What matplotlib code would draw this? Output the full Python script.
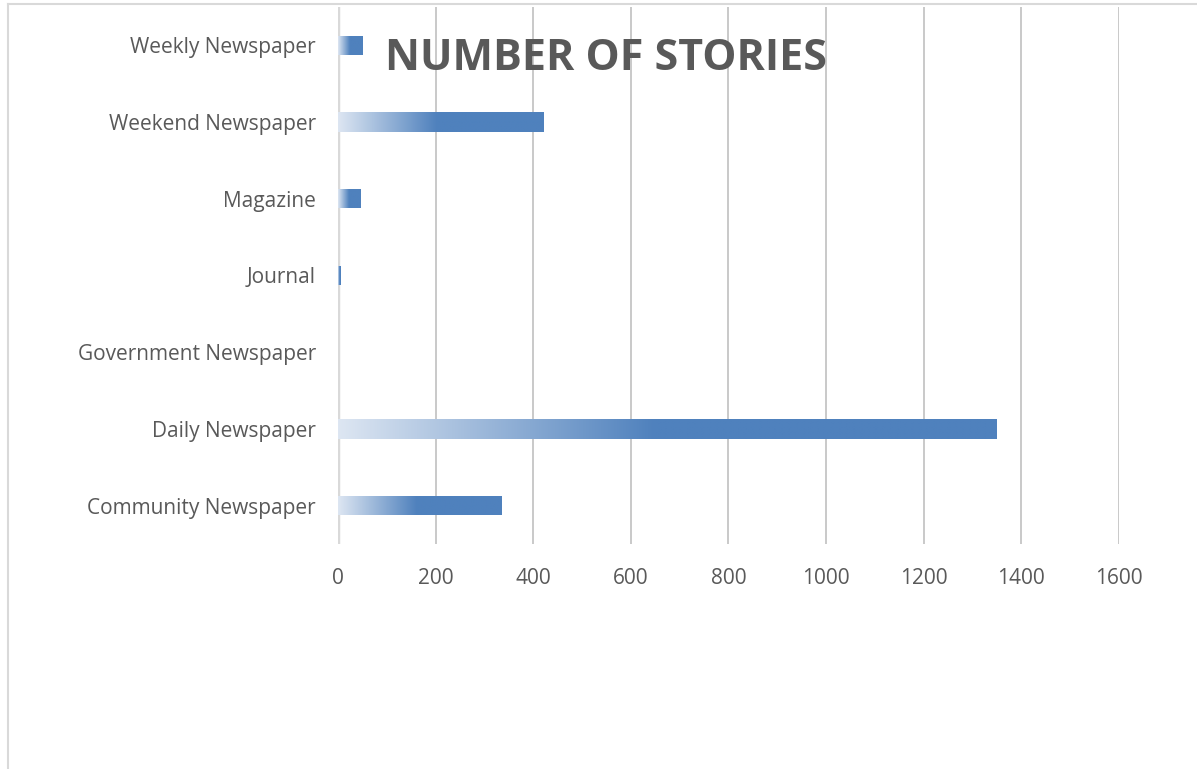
import matplotlib
matplotlib.use("Agg")
import matplotlib.pyplot as plt
import numpy as np
from matplotlib.colors import LinearSegmentedColormap
from matplotlib.lines import Line2D

# Outlet types, bottom to top as drawn
categories = [
    "Community Newspaper",
    "Daily Newspaper",
    "Government Newspaper",
    "Journal",
    "Magazine",
    "Weekend Newspaper",
    "Weekly Newspaper",
]
stories = [336, 1350, 0, 6, 47, 422, 50]
x_ticks = [0, 200, 400, 600, 800, 1000, 1200, 1400, 1600]

TEXT = "#595959"
SOLID = "#4f81bd"
# light -> solid over the first ~half of each bar, then flat
GRAD = LinearSegmentedColormap.from_list(
    "bar_grad", [(0.0, "#dde6f2"), (0.48, SOLID), (1.0, SOLID)]
)

plt.rcParams["font.family"] = ["Open Sans", "DejaVu Sans"]

fig = plt.figure(figsize=(11.97, 7.69), dpi=100, facecolor="white")
ax = fig.add_axes([0.2824, 0.2926, 0.6524, 0.6983])

y = np.arange(len(categories))
bars = ax.barh(y, stories, height=0.25, color="none", edgecolor="none", zorder=3)

# gradient fill clipped to each bar rectangle
grad = np.linspace(0, 1, 256).reshape(1, -1)
for rect in bars:
    w = rect.get_width()
    if w <= 0:
        continue
    x0, y0, h = rect.get_x(), rect.get_y(), rect.get_height()
    im = ax.imshow(grad, cmap=GRAD, aspect="auto", interpolation="bilinear",
                   extent=(x0, x0 + w, y0, y0 + h), zorder=3)
    im.set_clip_path(rect)

ax.set_xlim(0, 1600)
ax.set_ylim(-0.5, len(categories) - 0.5)
ax.set_xticks(x_ticks)
ax.set_xticklabels([str(t) for t in x_ticks])
ax.set_yticks(y)
ax.set_yticklabels(categories)

ax.grid(axis="x", color="#c9c9c9", linewidth=1.4, zorder=0)
ax.set_axisbelow(True)
for s in ax.spines.values():
    s.set_visible(False)
ax.axvline(0, color="#d9d9d9", linewidth=3.2, zorder=2)

ax.tick_params(axis="both", length=0, colors=TEXT, labelsize=15)
ax.tick_params(axis="y", pad=16)
ax.tick_params(axis="x", pad=17)

fig.text(385 / 1197, 1 - 59 / 769, "NUMBER OF STORIES", color=TEXT, fontsize=31,
         fontweight="bold", ha="left", va="center")

# chart-area frame (top and left edges visible)
fig.add_artist(Line2D([8 / 1197, 8 / 1197], [0, 1 - 4 / 769],
                      color="#d9d9d9", linewidth=1.5))
fig.add_artist(Line2D([8 / 1197, 1], [1 - 4 / 769, 1 - 4 / 769],
                      color="#d9d9d9", linewidth=1.5))

fig.savefig("out.png", dpi=100, facecolor="white")
